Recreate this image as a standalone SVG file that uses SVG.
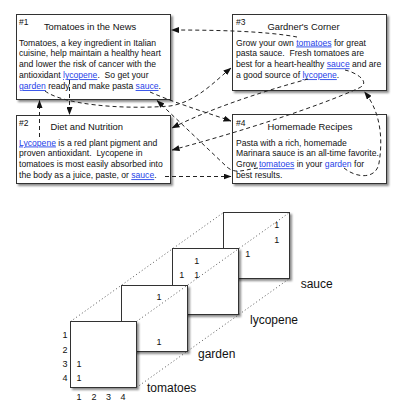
<svg xmlns="http://www.w3.org/2000/svg" width="406" height="407" viewBox="0 0 406 407">
<defs>
<filter id="sh" x="-10%" y="-10%" width="130%" height="130%">
<feDropShadow dx="2" dy="2" stdDeviation="0.9" flood-color="#000" flood-opacity="0.45"/>
</filter>
<marker id="ah" markerUnits="userSpaceOnUse" markerWidth="8" markerHeight="6" refX="7.5" refY="3" orient="auto">
<path d="M0,0 L8,3 L0,6 z" fill="#111"/>
</marker>
</defs>
<style>
.box{fill:#fff;stroke:#333;stroke-width:1;filter:url(#sh)}
.num{font-family:"Liberation Sans",Arial,sans-serif;font-size:8.5px;fill:#111}
.ttl{font-family:"Liberation Sans",Arial,sans-serif;font-size:9.4px;fill:#111;text-anchor:middle}
.body{font-family:"Liberation Sans",Arial,sans-serif;font-size:8.6px;fill:#111}
.lk{fill:#1f3fe8;text-decoration:underline}
.lk2{fill:#1f3fe8}
.conn{fill:none;stroke:#222;stroke-width:1;stroke-dasharray:4 3;marker-end:url(#ah)}
.dot{fill:none;stroke:#444;stroke-width:0.9;stroke-dasharray:1 2.5}
.sq{fill:#fff;stroke:#333;stroke-width:1;filter:url(#sh)}
.m{font-family:"Liberation Sans",Arial,sans-serif;font-size:9px;fill:#111;text-anchor:middle}
.lbl{font-family:"Liberation Sans",Arial,sans-serif;font-size:12px;fill:#111}
</style>

<g id="doc1">
<rect class="box" x="16.5" y="14.5" width="154" height="85"/>
<text class="num" x="19" y="25">#1</text>
<text class="ttl" x="90" y="30">Tomatoes in the News</text>
<text class="body" xml:space="preserve"><tspan x="19" y="45.5">Tomatoes, a key ingredient in Italian</tspan><tspan x="19" y="56.4">cuisine, help maintain a healthy heart</tspan><tspan x="19" y="67.3">and lower the risk of cancer with the</tspan><tspan x="19" y="78.2">antioxidant <tspan class="lk">lycopene</tspan>.  So get your</tspan><tspan x="19" y="89.1"><tspan class="lk">garden</tspan> ready and make pasta <tspan class="lk">sauce</tspan>.</tspan></text>
</g>

<g id="doc3">
<rect class="box" x="232.5" y="14.5" width="154" height="76"/>
<text class="num" x="236" y="25">#3</text>
<text class="ttl" x="303.5" y="29.5">Gardner's Corner</text>
<text class="body" xml:space="preserve"><tspan x="236" y="45.5">Grow your own <tspan class="lk">tomatoes</tspan> for great</tspan><tspan x="236" y="56.4">pasta sauce.  Fresh tomatoes are</tspan><tspan x="236" y="67.3">best for a heart-healthy <tspan class="lk">sauce</tspan> and are</tspan><tspan x="236" y="78.2">a good source of <tspan class="lk">lycopene</tspan>.</tspan></text>
</g>

<g id="doc2">
<rect class="box" x="16.5" y="115.5" width="154" height="68"/>
<text class="num" x="19" y="125.5">#2</text>
<text class="ttl" x="86.7" y="130">Diet and Nutrition</text>
<text class="body" xml:space="preserve"><tspan x="19" y="145.5"><tspan class="lk">Lycopene</tspan> is a red plant pigment and</tspan><tspan x="19" y="156.4">proven antioxidant.  Lycopene in</tspan><tspan x="19" y="167.3">tomatoes is most easily absorbed into</tspan><tspan x="19" y="178.2">the body as a juice, paste, or <tspan class="lk">sauce</tspan>.</tspan></text>
</g>

<g id="doc4">
<rect class="box" x="232.5" y="114.5" width="154" height="69"/>
<text class="num" x="236" y="125.5">#4</text>
<text class="ttl" x="310" y="130">Homemade Recipes</text>
<text class="body" xml:space="preserve"><tspan x="236" y="145.5">Pasta with a rich, homemade</tspan><tspan x="236" y="156.4">Marinara sauce is an all-time favorite.</tspan><tspan x="236" y="167.3">Grow <tspan class="lk">tomatoes</tspan> in your <tspan class="lk2">garden</tspan> for</tspan><tspan x="236" y="178.2">best results.</tspan></text>
</g>

<g id="connectors">
<path class="conn" d="M297,37 C265,31 215,30 171.5,30"/>
<path class="conn" d="M258,168 C246,169 236,175 227,167 L157,100.5"/>
<path class="conn" d="M45,91 C62,104 120,110 170,106 C196,102 214,82 231,68"/>
<path class="conn" d="M344,168 C356,178 376,180 379,163 C383,140 381,112 364.5,92"/>
<path class="conn" d="M69.5,80 L69.5,114.5"/>
<path class="conn" d="M39.5,137 L39.5,100.5"/>
<path class="conn" d="M308,79 C275,88 215,106 172,128"/>
<path class="conn" d="M150,92 C175,103 205,112 231,121"/>
<path class="conn" d="M165,176.5 L231,176.5"/>
<path class="conn" d="M345,70 C355,72 372,82 359,88 C320,106 240,132 172,150"/>
</g>

<g id="matrix-sauce">
<rect class="sq" x="223.5" y="212.5" width="66" height="66"/>
<text class="m" x="276.7" y="227.5">1</text>
<text class="m" x="276.7" y="242.5">1</text>
<text class="m" x="247.7" y="256.5">1</text>
</g>
<g id="matrix-lycopene">
<rect class="sq" x="172.5" y="248.5" width="66" height="66"/>
<text class="m" x="196.7" y="264.2">1</text>
<text class="m" x="181.7" y="277.8">1</text>
<text class="m" x="196.7" y="277.8">1</text>
</g>
<g id="matrix-garden">
<rect class="sq" x="121.5" y="285.5" width="66" height="66"/>
<text class="m" x="159" y="300.2">1</text>
<text class="m" x="159" y="345.2">1</text>
</g>
<g id="matrix-tomatoes">
<rect class="sq" x="70.5" y="321.5" width="66" height="66"/>
<text class="m" x="79" y="366.5">1</text>
<text class="m" x="79" y="380.5">1</text>
</g>

<g id="dotted">
<path class="dot" d="M70.5,321.5 L223.5,212.5"/>
<path class="dot" d="M136.5,321.5 L289.5,212.5"/>
<path class="dot" d="M136.5,387.5 L289.5,278.5"/>
</g>

<g id="axes">
<text class="m" x="65" y="337.5">1</text>
<text class="m" x="65" y="352.5">2</text>
<text class="m" x="65" y="366.5">3</text>
<text class="m" x="65" y="380.5">4</text>
<text class="m" x="79" y="399.5">1</text>
<text class="m" x="94" y="399.5">2</text>
<text class="m" x="108.5" y="399.5">3</text>
<text class="m" x="123" y="399.5">4</text>
</g>

<g id="labels">
<text class="lbl" x="147" y="392">tomatoes</text>
<text class="lbl" x="198" y="358">garden</text>
<text class="lbl" x="250" y="323.7">lycopene</text>
<text class="lbl" x="300.7" y="288">sauce</text>
</g>
</svg>
